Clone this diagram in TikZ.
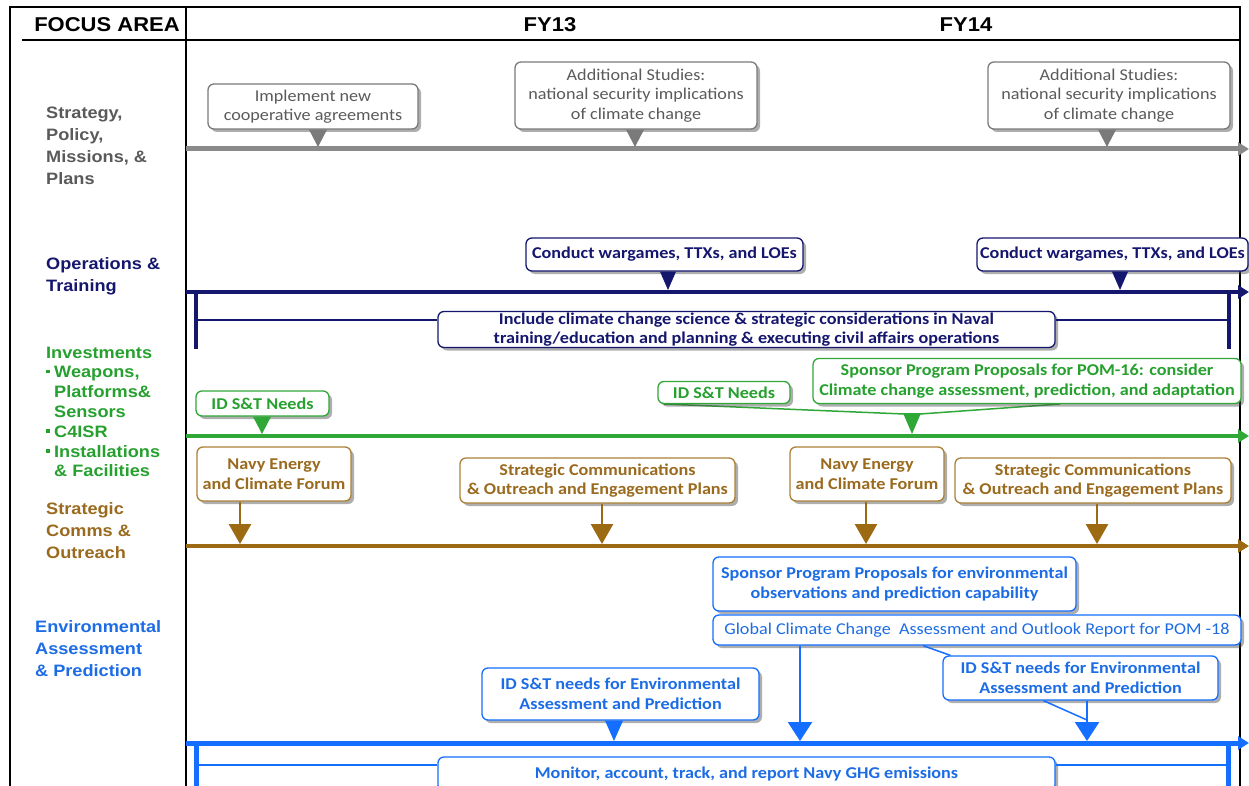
\documentclass[tikz,border=0pt]{standalone}
\usepackage{fontspec}
\setmainfont{Carlito}[FakeStretch=1.1]
\newfontfamily\arialf{Liberation Sans}[FakeStretch=1.1]
\usetikzlibrary{arrows.meta,shadows,calc}
\definecolor{cgrayl}{HTML}{8A8A8A}
\definecolor{cgrayb}{HTML}{7A7A7A}
\definecolor{cgrayt}{HTML}{5A5A5A}
\definecolor{cnavy}{HTML}{15166E}
\definecolor{cgreen}{HTML}{30A838}
\definecolor{cgreent}{HTML}{26A02E}
\definecolor{cbrown}{HTML}{9C6A12}
\definecolor{cbrownt}{HTML}{9A6A1E}
\definecolor{cblue}{HTML}{146EFF}
\definecolor{cbluet}{HTML}{1C6CE6}
\newcommand{\bul}{\makebox[8pt][l]{\rule[0.28em]{3.5pt}{3.5pt}}}
\begin{document}
\begin{tikzpicture}[x=1pt,y=-1pt,
  frame/.style={line width=1.5pt,black},
  hdr/.style={font={\arialf\bfseries\fontsize{20}{24}\selectfont},inner sep=0pt},
  lab/.style={anchor=west,align=left,inner sep=0pt,font={\arialf\bfseries\fontsize{16.5}{22}\selectfont}},
  callout/.style={draw,rounded corners=6pt,fill=white,line width=1.3pt,align=center,inner sep=1pt,
    drop shadow={shadow xshift=3pt,shadow yshift=-3pt,opacity=0.45,fill=black!70}},
  reg/.style={font={\fontsize{16.5}{19.5}\selectfont}},
  bld/.style={font={\bfseries\fontsize{16.5}{19.5}\selectfont}},
  gbox/.style={callout,reg,draw=cgrayb,text=cgrayt},
  nbox/.style={callout,bld,draw=cnavy,text=cnavy},
  grbox/.style={callout,bld,draw=cgreen,text=cgreent},
  bbox/.style={callout,bld,draw=cbrown!85,text=cbrownt},
  blbox/.style={callout,bld,draw=cblue,text=cbluet},
  tl/.style={-{Triangle[length=11pt,width=13pt]}},
  barrow/.style={cbrown,line width=2.8pt,-{Triangle[length=20pt,width=22pt]}},
  blarrow/.style={cblue,line width=2.5pt,-{Triangle[length=19pt,width=24pt]}}
]
\useasboundingbox (0,0) rectangle (1249,786);
\fill[white] (0,0) rectangle (1249,786);
% frame
\draw[frame] (10,786) -- (10,7) -- (1240,7) -- (1240,786);
\draw[frame] (22,40) -- (1240,40);
\draw[frame] (186,7) -- (186,786);
% header
\node[hdr] (hfa) at (107,25) {FOCUS AREA};
\node[hdr] (hfy13) at (550,25) {FY13};
\node[hdr] (hfy14) at (966,25) {FY14};
% left labels
\node[lab,text=cgrayt] (l1) at (46,146) {Strategy,\\Policy,\\Missions, \&\\Plans};
\node[lab,text=cnavy] (l2) at (46,276) {Operations \&\\Training};
\node[lab,text=cgreent,font={\arialf\bfseries\fontsize{16.5}{19.8}\selectfont}] (l3) at (46,412)
  {Investments\\\bul Weapons,\\\hspace*{8pt}Platforms\&\\\hspace*{8pt}Sensors\\\bul C4ISR\\\bul Installations\\\hspace*{8pt}\& Facilities};
\node[lab,text=cbrownt] (l4) at (46,531) {Strategic\\Comms \&\\Outreach};
\node[lab,text=cbluet] (l5) at (35,649) {Environmental\\Assessment\\\& Prediction};

% ---------- timelines ----------
\coordinate (Gs) at (186,149); \coordinate (Ge) at (1249,149);
\coordinate (Ns) at (186,292); \coordinate (Ne) at (1249,292);
\coordinate (Rs) at (186,436); \coordinate (Re) at (1249,436);
\coordinate (Bs) at (186,546); \coordinate (Be) at (1249,546);
\coordinate (Ls) at (186,743); \coordinate (Le) at (1249,743);
\draw[tl,cgrayl,line width=5pt] (Gs) -- (Ge);
\draw[tl,cnavy,line width=4pt] (Ns) -- (Ne);
\draw[tl,cgreen,line width=4pt] (Rs) -- (Re);
\draw[tl,cbrown,line width=4pt] (Bs) -- (Be);
\draw[tl,cblue,line width=5pt] (Ls) -- (Le);

% navy bracket
\coordinate (nb1) at (196,292); \coordinate (nb2) at (196,349);
\coordinate (nb3) at (1229,292); \coordinate (nb4) at (1229,349);
\draw[cnavy,line width=4pt] (nb1) -- (nb2);
\draw[cnavy,line width=4pt] (nb3) -- (nb4);
% blue bracket
\coordinate (lb1) at (196,743); \coordinate (lb2) at (196,786);
\coordinate (lb3) at (1228,743); \coordinate (lb4) at (1228,786);
\draw[cblue,line width=5pt] (lb1) -- (lb2);
\draw[cblue,line width=5pt] (lb3) -- (lb4);

% ---------- gray row ----------
\node[gbox,minimum width=210pt,minimum height=45pt] (g1) at (313,106.5) {Implement new\\cooperative agreements};
\node[gbox,minimum width=242pt,minimum height=67pt] (g2) at (636,95.5) {Additional Studies:\\national security implications\\of climate change};
\node[gbox,minimum width=242pt,minimum height=67pt] (g3) at (1109,95.5) {Additional Studies:\\national security implications\\of climate change};
\coordinate (tg1) at (318,147); \coordinate (tg2) at (635,147); \coordinate (tg3) at (1107,147);
\foreach \b/\t in {g1/tg1,g2/tg2,g3/tg3}{
  \fill[cgrayb] ($(\t |- \b.south)+(-9,0)$) -- ($(\t |- \b.south)+(9,0)$) -- (\t) -- cycle;}

% ---------- navy row ----------
\node[nbox,minimum width=277pt,minimum height=33pt] (n1) at (664.5,254.5) {Conduct wargames, TTXs, and LOEs};
\node[nbox,minimum width=271pt,minimum height=33pt] (n2) at (1112.5,254.5) {Conduct wargames, TTXs, and LOEs};
\coordinate (tn1) at (668,290); \coordinate (tn2) at (1120,290);
\foreach \b/\t in {n1/tn1,n2/tn2}{
  \fill[cnavy] ($(\t |- \b.south)+(-8,0)$) -- ($(\t |- \b.south)+(8,0)$) -- (\t) -- cycle;}
\coordinate (nl) at (196,320); \coordinate (nr) at (1229,320);
\node[nbox,minimum width=617pt,minimum height=36pt] (n3) at (746.5,329.5)
  {Include climate change science \& strategic considerations in Naval\\training/education and planning \& executing civil affairs operations};
\draw[cnavy,line width=2pt] (nl) -- (nl -| n3.west);
\draw[cnavy,line width=2pt] (nr) -- (nr -| n3.east);

% ---------- green row ----------
\node[grbox,minimum width=133pt,minimum height=25pt] (gr1) at (262.5,403.5) {ID S\&T Needs};
\coordinate (tgr1) at (262,434);
\fill[cgreen] ($(tgr1 |- gr1.south)+(-9,0)$) -- ($(tgr1 |- gr1.south)+(9,0)$) -- (tgr1) -- cycle;
\coordinate (tgr2) at (912,434);
\draw[cgreen,line width=1.5pt] (664,404) -- ($(tgr2)+(-8,-20)$);
\draw[cgreen,line width=1.5pt] (1060,404) -- ($(tgr2)+(8,-20)$);
\fill[cgreen] ($(tgr2)+(-9,-21)$) -- ($(tgr2)+(9,-21)$) -- (tgr2) -- cycle;
\node[grbox,minimum width=132pt,minimum height=22pt] (gr2) at (724,392.5) {ID S\&T Needs};
\node[grbox,minimum width=428pt,minimum height=45pt] (gr3) at (1027,381)
  {Sponsor Program Proposals for POM-16: consider\\Climate change assessment, prediction, and adaptation};

% ---------- brown row ----------
\node[bbox,minimum width=154pt,minimum height=54pt] (b1) at (274,474) {Navy Energy\\and Climate Forum};
\node[bbox,minimum width=275pt,minimum height=45pt] (b2) at (597.5,480.5) {Strategic Communications\\\& Outreach and Engagement Plans};
\node[bbox,minimum width=154pt,minimum height=54pt] (b3) at (867,474) {Navy Energy\\and Climate Forum};
\node[bbox,minimum width=276pt,minimum height=45pt] (b4) at (1093,480.5) {Strategic Communications\\\& Outreach and Engagement Plans};
\coordinate (tb1) at (240,544); \coordinate (tb2) at (602,544);
\coordinate (tb3) at (866,544); \coordinate (tb4) at (1097,544);
\foreach \b/\t in {b1/tb1,b2/tb2,b3/tb3,b4/tb4}{
  \draw[barrow] (\t |- \b.south) -- (\t);}

% ---------- blue row ----------
\coordinate (tbg) at (800,741); \coordinate (tbi1) at (614,741); \coordinate (tbi2) at (1087,741);
\node[blbox,minimum width=363pt,minimum height=54pt] (bs) at (894.5,584) {Sponsor Program Proposals for environmental\\observations and prediction capability};
\node[blbox,reg,minimum width=528pt,minimum height=30pt] (bg) at (977,630) {Global Climate Change\ \ Assessment and Outlook Report for POM -18};
\node[blbox,minimum width=277pt,minimum height=52pt] (bi1) at (620.5,694) {ID S\&T needs for Environmental\\Assessment and Prediction};
\node[blbox,minimum width=275pt,minimum height=44pt] (bi2) at (1080.5,678) {ID S\&T needs for Environmental\\Assessment and Prediction};
\draw[blarrow] (tbg |- bg.south) -- (tbg);
\fill[cblue] ($(tbi1 |- bi1.south)+(-9,0)$) -- ($(tbi1 |- bi1.south)+(9,0)$) -- (tbi1) -- cycle;
\draw[cblue,line width=1.5pt] ($(bg.south)+(-54,0)$) -- ($(bi2.north west)+(8,0)$);
\draw[blarrow] (tbi2 |- bi2.south) -- (tbi2);
\draw[cblue,line width=1.5pt] ($(bi2.south)+(-37,0)$) -- ($(tbi2)+(0,-21)$);
\coordinate (ll) at (196,765); \coordinate (lr) at (1228,765);
\node[blbox,minimum width=617pt,minimum height=34pt] (bm) at (746.5,774) {Monitor, account, track, and report Navy GHG emissions};
\draw[cblue,line width=2pt] (ll) -- (ll -| bm.west);
\draw[cblue,line width=2pt] (lr) -- (lr -| bm.east);
\end{tikzpicture}
\end{document}
